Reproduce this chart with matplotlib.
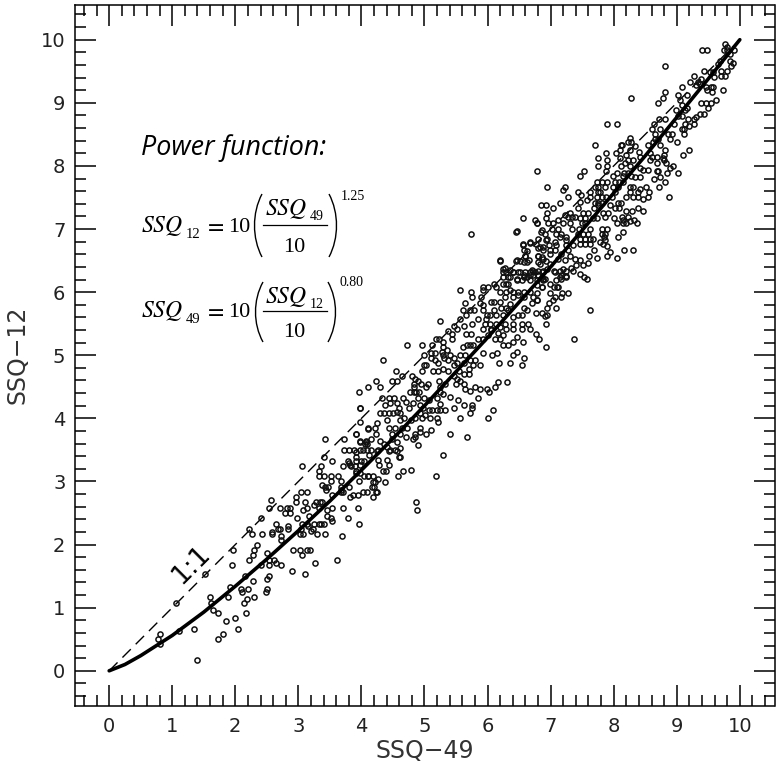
import numpy as np
import matplotlib
matplotlib.use("Agg")
import matplotlib.pyplot as plt
from matplotlib.path import Path
from matplotlib.patches import PathPatch

# points, (SSQ-49, SSQ-12), grouped by region
low_pts = [(1.40,.17),(.78,.50),(.81,.58),(.81,.42),(1.11,.63),(1.34,.67),(1.06,1.08),(1.73,.50),(1.80,.58),(2.05,.67),
 (1.85,.79),(1.99,.83),(2.17,.92),(1.73,.92),(1.65,.96),(1.61,1.08),(1.60,1.17),(1.88,1.17),(1.91,1.32),(1.52,1.54),
 (2.13,1.08),(2.19,1.13),(2.29,1.17),(2.09,1.29),(2.11,1.25),(2.20,1.29),(2.28,1.42),(2.16,1.50),(1.94,1.67),(1.96,1.92),
 (2.21,1.75),(2.28,1.83),(2.29,1.92),(2.34,2.0),(2.50,1.87),(2.54,1.75),(2.62,1.75),(2.41,1.67),(2.54,1.67),(2.65,1.71),
 (2.72,1.67),(2.53,1.5),(2.51,1.46),(2.50,1.29),(2.49,1.25),(2.90,1.58),(3.11,1.54),(3.26,1.71),(3.61,1.75),(2.91,1.92),
 (3.02,1.92),(3.14,1.92),(3.19,1.92),(3.05,1.83),(2.22,2.25),(2.27,2.17),(2.41,2.42),(2.43,2.16),(2.54,2.58),(2.56,2.71),
 (2.58,2.2),(2.58,2.17),(2.64,2.33),(2.67,2.25),(2.71,2.25),(2.84,2.29),(2.84,2.25),(2.72,2.13),(2.72,2.08),(2.71,2.58),
 (2.79,2.5),(2.86,2.5),(2.82,2.58),(2.86,2.58),(2.98,2.42),(2.97,2.75),(2.97,2.67),(3.04,2.83),(3.13,2.83),(3.10,2.67),
 (3.08,2.54),(3.14,2.58),(3.06,3.25),(3.17,2.46),(3.06,2.33),(3.13,2.33),(3.04,2.25),(3.02,2.17),(3.08,2.16),(3.15,2.29),
 (3.20,2.21),(3.23,2.25),(3.25,2.33),(3.32,2.33),(3.36,2.33),(3.41,2.33),(3.29,2.17),(3.42,2.17),(3.25,2.63),(3.28,2.67),
 (3.32,2.58),(3.38,2.67),(3.35,2.67),(3.54,2.58),(3.45,2.46),(3.52,2.42),(3.53,2.37),(3.45,2.54),(3.69,2.13),(3.70,2.58),
 (3.79,2.42),(3.95,2.58),(3.96,2.33),(3.53,2.79),(3.82,2.75),(3.87,2.79),(3.95,2.79),(4.03,2.83),(4.09,2.83),(3.67,2.83),
 (3.71,2.83),(3.81,2.92),(3.67,2.92),(3.68,2.87),(3.44,2.87),(3.42,2.92),(3.47,2.92),(3.38,2.95),(3.67,3.0),(3.63,3.08),
 (3.51,3.08),(3.51,3.0),(3.32,3.08),(3.41,3.08),(3.33,3.17),(3.36,3.25),(3.41,3.38),(3.54,3.33),(3.43,3.67),(3.73,3.67),
 (3.97,3.94),(3.98,4.17),(3.91,3.75),(4.10,3.83),(3.98,3.63),(4.07,3.63),(4.09,3.59),(3.72,3.5),(3.80,3.5),(3.89,3.5),
 (3.98,3.5),(4.03,3.5),(4.09,3.5),(3.91,3.46),(3.92,3.39),(3.91,3.33),(3.99,3.33),(4.04,3.33),(3.78,3.33),(3.70,3.25),
 (3.80,3.29),(3.83,3.25),(3.90,3.25),(3.92,3.17),(3.97,3.13),(3.91,3.13),(4.04,3.08),(4.10,3.08),(3.96,3.0)]

gap_low_pts = [(4.79,3.18),(4.58,3.08),(5.18,3.08),(4.37,2.99),(4.11,3.08),(4.19,3.08),(4.26,3.04),(4.18,2.99),(4.22,2.99),(4.16,2.91),
 (4.20,2.91),(4.23,2.83),(4.25,2.83),(4.19,2.75),(4.86,2.67),(4.88,2.54),(4.34,3.17),(4.39,3.17),(3.82,3.26),(3.97,3.26),(4.25,3.49),
 (4.43,3.49),(4.56,3.49),(4.12,3.42),(4.60,3.38),(4.66,3.17)]

mid_pts = [(5.73,6.92),(6.46,6.97),(5.24,5.54),(4.72,5.17),(4.96,5.17),(4.34,4.92),(3.96,4.42),(4.10,4.50),(4.23,4.59),(4.29,4.50),
 (4.55,4.75),(4.49,4.59),(4.57,4.59),(4.64,4.67),(3.98,4.17),(5.29,3.42),(5.68,3.71),(5.41,3.75),(4.90,3.58),(4.61,3.38),
 (6.01,4.0),(5.56,4.0),(5.72,4.09),(6.09,4.13),(5.76,4.21),(5.76,4.17),(5.62,4.21),(5.46,4.17),(5.85,4.33),(5.53,4.29),
 (6.31,4.58),(6.17,4.58),(6.12,4.50),(6.55,4.84),(6.36,4.88),(6.18,4.88),(6.58,4.96),(6.41,5.0),(6.47,5.05),(6.56,5.21),
 (6.47,5.29),(6.93,5.13),(6.82,5.25),(6.77,5.33),(6.93,5.50),(6.64,5.50),(6.67,5.42),(6.54,5.50),(6.54,5.42),(6.77,5.67),
 (6.86,5.67),(6.78,5.88),(5.57,6.04),(5.74,6.0),(5.76,5.92),(5.64,5.83),(5.88,5.83),(5.90,5.92),(5.93,6.08),(6.0,6.08),
 (6.10,6.13),(6.14,6.08),(5.93,6.04),(6.19,6.5),(5.61,5.71),(5.72,5.71),(5.79,5.71),(5.57,5.58),(5.66,5.63),(5.85,5.58),
 (5.76,5.50),(5.93,5.79),(5.93,5.71),(6.11,5.71),(5.19,5.25),(5.23,5.25),(5.12,5.17),(5.30,5.21),(5.43,5.26),(5.43,5.33),
 (5.38,5.38),(5.47,5.46),(5.52,5.42),(5.62,5.46),(5.66,5.33),(5.73,5.33),(5.67,5.17),(5.61,5.13),(5.72,5.17),(5.77,5.17),
 (5.85,5.25),(5.92,5.25),(6.0,5.32),(6.06,5.40),(6.12,5.25),(6.20,5.25),(6.25,5.17),(6.33,5.17),(6.41,5.21),(6.07,5.0),
 (6.15,5.04),(5.93,5.04),(5.30,5.13),(5.35,5.08),(5.27,5.05),(5.11,5.04),(5.16,5.04),(4.99,5.0),(5.11,4.96),(5.17,4.92),
 (5.22,4.88),(5.31,4.96),(5.38,4.92),(5.46,4.96),(5.56,5.0),(5.65,5.0),(5.30,5.0),(5.40,5.0),(5.51,4.88),(5.62,4.88),
 (5.72,4.92),(5.80,4.92),(5.88,4.84),(5.77,4.84),(5.70,4.79),(5.03,4.84),(4.96,4.75),(4.99,4.84),(5.14,4.75),(5.22,4.75),
 (5.30,4.79),(5.38,4.75),(5.46,4.84),(5.54,4.75),(5.62,4.71),(5.70,4.71),(4.80,4.67),(4.85,4.63),(4.90,4.59),(4.83,4.55),
 (5.06,4.55),(5.03,4.50),(5.23,4.59),(5.33,4.55),(5.46,4.67),(5.51,4.63),(5.56,4.59),(5.62,4.55),(5.50,4.55),(4.83,4.42),
 (4.77,4.42),(4.87,4.42),(4.92,4.42),(4.83,4.50),(4.94,4.54),(5.25,4.50),(5.24,4.42),(5.64,4.47),(5.72,4.44),(5.80,4.50),
 (5.88,4.47),(5.99,4.47),(6.03,4.42),(4.32,4.33),(4.43,4.33),(4.51,4.33),(4.38,4.21),(4.46,4.25),(4.56,4.24),(4.66,4.33),
 (4.71,4.26),(4.81,4.24),(4.90,4.33),(4.99,4.33),(5.07,4.29),(5.20,4.33),(5.24,4.23),(5.41,4.34),(5.30,4.39),(4.93,4.21),
 (4.97,4.17),(4.59,4.17),(4.61,4.09),(4.76,4.17),(4.30,4.09),(4.36,4.09),(4.44,4.09),(4.50,4.09),(4.56,4.10),(5.12,4.13),
 (5.20,4.13),(5.25,4.13),(5.32,4.13),(5.07,4.13),(4.93,4.09),(5.01,4.05),(4.85,4.0),(4.96,4.0),(5.09,4.0),(5.20,4.0),
 (5.22,3.94),(4.41,3.97),(4.61,3.97),(4.67,4.0),(4.78,3.97),(4.24,3.92),(4.11,3.84),(4.22,3.84),(4.23,3.76),(4.44,3.84),
 (4.53,3.84),(4.64,3.84),(4.72,3.84),(4.93,3.84),(5.11,3.82),(4.93,3.79),(4.85,3.76),(5.02,3.75),(4.48,3.75),(4.61,3.75),
 (4.71,3.71),(4.81,3.67),(4.85,3.71),(3.91,3.75),(3.98,3.64),(4.08,3.64),(4.15,3.67),(4.06,3.59),(4.15,3.5),(4.27,3.5),
 (4.30,3.64),(4.35,3.59),(4.48,3.67),(4.56,3.62),(4.45,3.5),(4.53,3.5),(4.61,3.53),(4.40,3.55),(4.27,3.34),(4.41,3.34),
 (4.28,3.26),(4.43,3.26)]

mid_upper_pts = [(6.25,6.37),(6.30,6.32),(6.41,6.32),(6.49,6.32),(6.57,6.27),(6.67,6.27),(6.25,6.32),(6.33,6.24),(6.46,6.21),(6.54,6.19),
 (6.62,6.24),(6.72,6.33),(6.80,6.33),(6.88,6.33),(6.94,6.37),(6.72,6.27),(6.80,6.27),(6.88,6.21),(6.45,6.5),(6.52,6.5),
 (6.62,6.48),(6.60,6.58),(6.62,6.65),(6.56,6.76),(6.67,6.78),(6.77,6.76),(6.80,6.58),(6.87,6.55),(6.93,6.5),(6.83,6.45),
 (6.86,6.98),(6.93,6.82),(6.83,6.72),(6.78,7.09),(6.20,6.0),(6.30,6.0),(6.41,6.0),(6.49,6.0),(6.57,6.0),(6.67,6.0),
 (6.25,6.13),(6.33,6.13),(6.36,6.04),(6.27,5.92),(6.20,5.84),(6.22,5.75),(6.30,5.75),(6.41,5.92),(6.49,5.95),(6.57,5.92),
 (6.36,5.82),(6.33,5.71),(6.25,5.63),(6.14,5.63),(6.06,5.84),(6.11,5.84),(6.57,5.75),(6.62,5.71),(6.54,5.63),(5.99,5.63),
 (6.04,5.63),(5.98,5.58),(5.96,5.50),(6.04,5.50),(6.14,5.50),(6.20,5.45),(6.28,5.50),(6.41,5.60),(6.49,5.63),(6.41,5.50),
 (6.41,5.42),(6.30,5.42),(6.25,5.32),(6.17,5.35),(6.06,5.42),(5.93,5.42)]

gap_right_pts = [(7.62,5.71),(7.37,5.25),(7.08,5.75),(6.94,5.75),(6.91,5.62),(6.95,5.63),(7.18,5.99),(7.27,5.99),(7.17,5.92),(7.07,5.92),
 (7.03,5.88),(6.97,5.83),(6.79,5.88),(6.70,5.83),(6.72,5.92),(6.79,5.99),(6.99,5.99),(7.05,6.08),(7.12,6.08),(7.09,6.19),
 (7.17,6.21),(7.25,6.25),(7.36,6.33),(6.86,6.08),(6.88,6.19),(6.91,6.21),(7.05,6.33),(7.15,6.33),(7.17,6.27),(7.25,6.33)]

top_pts = [(9.40,9.83),(9.48,9.83),(9.77,9.93),(9.79,9.83),(9.75,9.83),(9.91,9.83),(9.84,9.78),(9.80,9.88),(8.82,9.58),(9.84,9.67),
 (9.89,9.63),(9.86,9.58),(9.68,9.67),(9.66,9.62),(9.70,9.50),(9.79,9.50),(9.70,9.42),(9.77,9.42),(9.44,9.5),(9.58,9.49),
 (9.59,9.41),(9.52,9.49),(9.28,9.42),(9.21,9.33),(9.39,9.38),(9.34,9.33),(9.31,9.28),(9.37,9.30),(9.47,9.25),(9.55,9.25),
 (9.48,9.21),(9.56,9.17),(9.58,9.25),(9.73,9.21),(9.08,9.25),(8.81,9.17),(8.78,9.08),(8.71,9.0),(9.02,9.13),(9.05,9.05),
 (9.17,9.13),(8.28,9.08),(9.39,9.0),(9.46,9.0),(9.54,9.0),(9.62,9.04),(9.49,8.92),(9.08,8.96),(9.13,8.88),(9.16,8.92),
 (8.99,8.88),(9.43,8.83),(9.37,8.83),(9.31,8.78),(9.28,8.75),(9.02,8.79),(9.09,8.79),(9.18,8.75),(9.28,8.67),(9.19,8.63),
 (9.11,8.59),(9.08,8.59),(9.13,8.67),(9.12,8.50),(8.72,8.75),(8.81,8.75),(8.64,8.67),(8.95,8.67),(8.73,8.59),(8.60,8.59),
 (7.89,8.67),(8.05,8.67),(8.86,8.50),(8.92,8.50),(8.89,8.43),(8.65,8.50),(8.65,8.43),(8.63,8.38),(8.71,8.43),(9.01,8.38),
 (7.70,8.33),(8.26,8.45),(8.27,8.38),(8.22,8.38),(8.12,8.33),(8.13,8.33),(8.10,8.25),(8.04,8.21),(8.19,8.17),(8.26,8.25),
 (8.34,8.31),(8.40,8.22),(8.42,8.14),(8.55,8.33),(8.57,8.21),(8.60,8.14),(8.68,8.14),(8.79,8.17),(8.73,8.33),(8.81,8.25),
 (9.10,8.17),(9.20,8.25),(7.88,8.21),(7.75,8.13),(7.75,8.0),(7.89,8.09),(7.90,8.0),(7.88,7.92),(8.10,8.13),(8.12,8.0),
 (8.18,8.04),(8.26,8.0),(8.31,8.09),(8.23,8.09),(8.80,8.09),(8.78,8.13),(8.83,8.04),(8.94,8.0),(8.89,7.97),(9.02,7.88),
 (8.85,7.88),(8.81,7.74),(8.72,7.67),(8.73,7.83),(8.64,7.79),(8.68,7.92),(8.71,7.92),(8.47,7.93),(8.55,7.93),(8.41,7.96),
 (8.58,8.09),(8.68,8.04)]

upper_pts = [(6.79,7.92),(7.53,7.92),(7.46,7.84),(7.99,7.84),(8.05,7.88),(8.14,7.84),(8.16,7.88),(8.23,7.88),(8.28,7.84),(8.42,7.82),
 (8.34,7.82),(7.73,7.75),(7.81,7.75),(7.89,7.75),(8.02,7.75),(8.09,7.75),(8.15,7.75),(6.94,7.67),(7.19,7.62),(7.23,7.67),
 (7.70,7.67),(7.75,7.67),(7.86,7.67),(7.99,7.67),(8.07,7.67),(8.26,7.67),(8.31,7.67),(7.44,7.58),(7.48,7.54),(7.62,7.58),
 (7.75,7.58),(7.79,7.58),(8.02,7.58),(8.41,7.63),(8.51,7.67),(7.28,7.5),(7.57,7.46),(7.62,7.5),(7.73,7.5),(7.81,7.5),
 (7.88,7.5),(7.97,7.5),(8.26,7.58),(8.39,7.58),(8.56,7.58),(8.20,7.5),(8.30,7.5),(8.39,7.5),(8.46,7.47),(8.55,7.5),
 (8.87,7.5),(7.46,7.43),(7.70,7.42),(7.75,7.42),(7.81,7.42),(8.07,7.42),(8.12,7.42),(6.84,7.38),(6.93,7.38),(7.15,7.42),
 (7.04,7.33),(7.44,7.33),(7.68,7.33),(7.75,7.38),(7.94,7.38),(8.02,7.33),(8.09,7.33),(8.39,7.33),(8.46,7.29),(6.95,7.26),
 (7.31,7.26),(7.23,7.22),(7.39,7.19),(7.52,7.26),(7.60,7.26),(7.83,7.26),(7.91,7.26),(8.20,7.29),(8.29,7.29),(6.56,7.17),
 (6.92,7.17),(7.11,7.14),(7.28,7.19),(7.34,7.19),(7.46,7.17),(7.54,7.17),(7.67,7.17),(7.73,7.17),(7.86,7.19),(8.0,7.18),
 (8.13,7.19),(8.15,7.14),(8.22,7.19),(8.26,7.13),(8.33,7.14),(8.37,7.09),(8.20,7.09),(8.15,7.09),(8.06,7.09),(6.75,7.14),
 (6.78,7.09),(6.96,7.09),(7.04,7.09),(7.02,7.0),(7.20,7.09),(7.31,7.09),(7.12,7.0),(7.34,7.0),(7.45,7.0),(7.49,7.09),
 (7.54,7.09),(7.62,7.0),(7.81,7.0),(7.89,7.0),(6.45,6.96),(6.85,6.96),(6.91,6.92),(7.08,6.92),(7.16,6.92),(7.25,6.88),
 (7.44,6.92),(7.52,6.92),(7.60,6.92),(7.81,6.92),(7.87,6.92),(8.14,6.96),(8.07,6.88),(6.80,6.84),(6.94,6.84),(7.07,6.80),
 (7.15,6.87),(7.25,6.82),(7.46,6.85),(7.54,6.85),(7.62,6.85),(7.67,6.85),(7.85,6.87),(7.86,6.82),(6.56,6.75),(6.67,6.80),
 (6.88,6.72),(6.98,6.74),(7.09,6.74),(7.25,6.74),(7.36,6.74),(7.46,6.76),(7.54,6.76),(7.63,6.76),(7.78,6.80),(7.83,6.77),
 (7.89,6.73),(7.68,6.67),(8.17,6.67),(8.30,6.67),(7.94,6.64),(7.90,6.58),(8.05,6.54),(7.74,6.54),(7.61,6.58),(6.58,6.66),
 (6.59,6.58),(6.47,6.51),(6.57,6.48),(6.65,6.51),(6.80,6.70),(6.88,6.66),(6.99,6.66),(6.80,6.58),(6.88,6.53),(6.99,6.61),
 (7.07,6.66),(7.17,6.61),(7.28,6.66),(7.12,6.53),(7.23,6.51),(7.31,6.58),(7.39,6.53),(7.46,6.51),(7.60,6.46),(7.41,6.43),
 (7.52,6.43),(6.20,6.51),(6.28,6.38),(6.36,6.35),(6.41,6.32),(6.51,6.32),(6.59,6.32),(6.67,6.32),(6.75,6.32),(6.86,6.32),
 (6.80,6.48),(6.70,6.35),(6.99,6.45),(7.07,6.32),(7.20,6.37),(7.33,6.39),(7.25,6.24),(7.15,6.24),(7.46,6.28),(7.53,6.24),
 (7.58,6.21),(6.25,6.24),(6.36,6.24),(6.46,6.19),(6.57,6.24),(6.67,6.19),(6.78,6.19),(6.86,6.24),(6.30,6.13),(6.78,6.11),
 (6.86,6.08),(6.99,6.13),(7.10,6.08)]

curve_x = [0, .25, .5, 1, 1.5, 2, 2.5, 3, 3.5, 4, 4.5, 5, 5.5, 6, 6.5, 7, 7.5, 8, 8.5, 9, 9.5, 10]
curve_y = [0, .10, .24, .56, .93, 1.34, 1.77, 2.22, 2.69, 3.18, 3.68, 4.20, 4.74, 5.28, 5.84, 6.40, 6.98, 7.57, 8.16, 8.77, 9.38, 10]
line_x = [0, 10]
line_y = [0, 10]
major_ticks = list(range(0, 11))

W, H = 781, 764
plt.rcParams['mathtext.fontset'] = 'stix'
plt.rcParams['font.family'] = ['DejaVu Sans']
fig = plt.figure(figsize=(W / 100, H / 100), dpi=100)
ax = fig.add_axes([74.5 / W, (H - 705.5) / H, 700 / W, 700.5 / H])

pts = np.array(low_pts + gap_low_pts + mid_pts + mid_upper_pts + gap_right_pts + top_pts + upper_pts)
ax.plot(pts[:, 0], pts[:, 1], 'o', mfc='none', mec='#111111', ms=3.7, mew=1.1, zorder=2)
ax.plot(line_x, line_y, color='black', lw=1.0, dashes=(8.5, 5), zorder=1)
ax.plot(curve_x, curve_y, color='black', lw=2.6, solid_capstyle='round', zorder=3)

ax.set_xlim(-0.55, 10.55)
ax.set_ylim(-0.55, 10.55)
ax.set_xticks(major_ticks)
ax.set_yticks(major_ticks)
ax.set_xticks(np.arange(-0.4, 10.5, 0.2), minor=True)
ax.set_yticks(np.arange(-0.4, 10.5, 0.2), minor=True)
ax.tick_params(which='major', direction='in', length=15, width=1.1, top=True, right=True, labelsize=14, labelcolor='#222222')
ax.tick_params(which='minor', direction='in', length=8, width=1.1, top=True, right=True)
ax.tick_params(axis='x', which='major', pad=8.5)
ax.tick_params(axis='y', which='major', pad=6.5)
for s in ax.spines.values():
    s.set_linewidth(1.1)

ax.set_xlabel('SSQ\u221249', fontsize=17, labelpad=2, color='#333333')
ax.set_ylabel('SSQ\u221212', fontsize=17, labelpad=8, color='#333333')


def put(x, y, s, **kw):
    # place text in picture pixels
    fig.text(x / W, 1 - y / H, s, **kw)


def paren(x0, x1, y0, y1):
    # big thin bracket: x0 at the tips, x1 at the belly
    p = Path([(x0 / W, 1 - y0 / H), (x1 / W, 1 - (y0 + 0.3 * (y1 - y0)) / H),
              (x1 / W, 1 - (y0 + 0.7 * (y1 - y0)) / H), (x0 / W, 1 - y1 / H)],
             [Path.MOVETO, Path.CURVE4, Path.CURVE4, Path.CURVE4])
    fig.add_artist(PathPatch(p, fc='none', ec='black', lw=1.0, transform=fig.transFigure))


def equation(sub_a, sub_b, exp, y, bar_y, top_y, bot_y, p0, p1, xl, xr, exp_y):
    serif = dict(family='Liberation Serif', color='black')
    put(141, y, r'$SSQ$', fontsize=17, va='baseline')
    put(186, y + 6, sub_a, fontsize=10.5, va='baseline', **serif)
    put(204, y, r'$=$', fontsize=17, va='baseline')
    put(228, y, '10', fontsize=16, va='baseline', **serif)
    put(265, top_y, r'$SSQ$', fontsize=17, va='baseline')
    put(310, top_y + 5, sub_b, fontsize=10, va='baseline', **serif)
    put(294, bot_y, '10', fontsize=16, va='baseline', ha='center', **serif)
    fig.add_artist(plt.Line2D([263 / W, 327 / W], [1 - bar_y / H] * 2, color='black', lw=0.9))
    paren(xl + 10, xl, p0, p1)
    paren(xr, xr + 10, p0, p1)
    put(xr + 12, exp_y, exp, fontsize=10, va='center', **serif)


put(141, 148, 'Power function:', family='Open Sans', style='italic', fontsize=19.4, va='center')
equation('12', '49', '1.25', 232, 225, 215, 252, 194, 257, 252, 329, 196)
equation('49', '12', '0.80', 317, 311, 303, 337, 282, 342, 253, 328, 283)
ax.text(1.30, 1.68, '1:1', fontsize=19, rotation=45, ha='center', va='center')

fig.savefig('out.png', dpi=100)
